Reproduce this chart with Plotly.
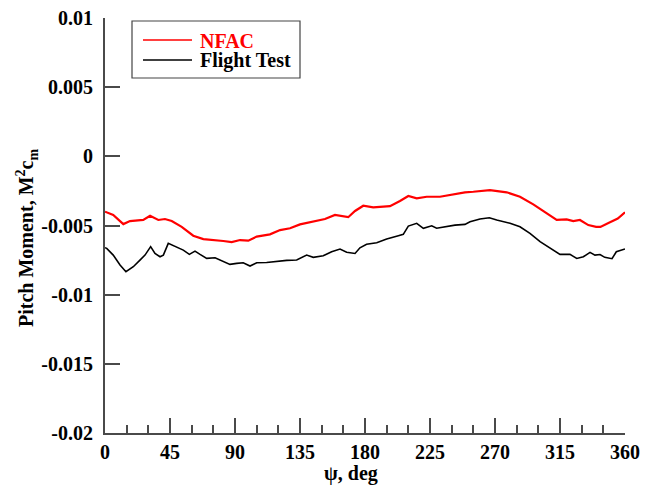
import plotly.graph_objects as go

# ---- data ----
nfac_psi = [0, 1.2, 5.7, 12.7, 17.3, 26.5, 31.2, 36.9, 41.5, 46.2, 53.1, 61.1, 68.1, 81.9, 87.7,
            93.5, 99.2, 105, 114.2, 121.2, 128.1, 135, 146.6, 152.3, 159.2, 166.2, 168.4, 173.1,
            178.8, 185.7, 197.3, 204.2, 210, 215.8, 222.7, 231.9, 241.1, 249.2, 255, 266.5,
            278.1, 287.3, 296.5, 305.8, 312.7, 319.6, 324.2, 328.8, 334.6, 340, 343, 349.6, 355, 360]
nfac_cm = [-0.0040, -0.00405, -0.00424, -0.0049, -0.00468, -0.0046, -0.0043, -0.0046, -0.00453,
           -0.00468, -0.0051, -0.00574, -0.00598, -0.00612, -0.0062, -0.00605, -0.0061, -0.0058,
           -0.00564, -0.00533, -0.0052, -0.00492, -0.00468, -0.00453, -0.00424, -0.00436, -0.0044,
           -0.00395, -0.00357, -0.00369, -0.0036, -0.00323, -0.00287, -0.00304, -0.00292, -0.00292,
           -0.00275, -0.0026, -0.00256, -0.00244, -0.0026, -0.00292, -0.00347, -0.00412, -0.0046,
           -0.00456, -0.00468, -0.0046, -0.00497, -0.0051, -0.0051, -0.00477, -0.0045, -0.00405]

flight_psi = [0, 1.2, 5.7, 10.4, 14.5, 19.6, 24.2, 27.7, 31.6, 34.6, 38.1, 40.4, 43.8, 48.5, 54.2,
              58.4, 62.3, 65.8, 70.4, 76.2, 79.6, 83.1, 86.5, 91.2, 95.7, 100.4, 105, 111.9,
              118.9, 125.8, 132.7, 139.6, 144.2, 151.1, 156.9, 162.7, 167.3, 173.1, 176.5, 181.1,
              188.1, 195, 203.1, 206.5, 210, 215.8, 220.4, 226.2, 229.6, 236.5, 242.3, 249.2,
              252.7, 259.6, 266.1, 271.2, 280.4, 287.3, 294.2, 301.2, 308.1, 315, 321.9, 326.6,
              331.2, 335.8, 339.2, 342.7, 346, 351, 354, 357, 360]
flight_cm = [-0.0066, -0.00665, -0.00714, -0.00786, -0.00834, -0.00798, -0.0075, -0.00714, -0.00653,
             -0.00702, -0.00726, -0.00714, -0.00629, -0.00653, -0.00678, -0.00709, -0.00685,
             -0.00709, -0.00738, -0.00733, -0.0075, -0.00762, -0.00781, -0.00774, -0.00769,
             -0.00793, -0.00769, -0.00767, -0.00757, -0.00752, -0.0075, -0.00714, -0.0073,
             -0.00719, -0.0069, -0.0067, -0.00694, -0.00702, -0.00661, -0.00636, -0.00625,
             -0.00598, -0.00574, -0.00564, -0.00504, -0.00484, -0.0052, -0.00502, -0.0052,
             -0.00509, -0.00497, -0.00492, -0.00473, -0.00453, -0.00444, -0.0046, -0.00484,
             -0.00509, -0.00557, -0.00617, -0.00665, -0.00709, -0.00709, -0.00738, -0.00726,
             -0.00694, -0.00714, -0.0071, -0.0073, -0.0074, -0.0069, -0.0068, -0.0067]

x_tickvals = [0, 45, 90, 135, 180, 225, 270, 315, 360]
x_ticktext = ["0", "45", "90", "135", "180", "225", "270", "315", "360"]
y_tickvals = [0.01, 0.005, 0, -0.005, -0.01, -0.015, -0.02]
y_ticktext = ["0.01", "0.005", "0", "-0.005", "-0.01", "-0.015", "-0.02"]

series_names = ["NFAC", "Flight Test"]
series_colors = ["#ff0000", "#000000"]

FONT = "Liberation Serif"

fig = go.Figure()
fig.add_trace(go.Scatter(x=nfac_psi, y=nfac_cm, mode="lines", name=series_names[0],
                         line=dict(color=series_colors[0], width=2.2), showlegend=False))
fig.add_trace(go.Scatter(x=flight_psi, y=flight_cm, mode="lines", name=series_names[1],
                         line=dict(color=series_colors[1], width=1.6), showlegend=False))

# page body has an 8px margin, so the figure is drawn 8px in from the window corner
OFF = 8
W, H = 655 - OFF, 490 - OFF
L, R, T, B = 105 - OFF, 30, 18 - OFF, 57
pw, ph = W - L - R, H - T - B


def px(x):  # screen pixel -> paper x
    return (x - OFF - L) / pw


def py(y):  # screen pixel -> paper y
    return (H - B - (y - OFF)) / ph


axis_col = "#4a4a4a"
fig.update_layout(
    width=W, height=H,
    margin=dict(l=L, r=R, t=T, b=B, autoexpand=False),
    paper_bgcolor="white", plot_bgcolor="white",
    font=dict(family=FONT, size=20, color="black"),
    xaxis=dict(range=[0, 360], tickvals=x_tickvals, ticktext=x_ticktext,
               ticks="inside", ticklen=15, tickwidth=1.5, tickcolor=axis_col,
               minor=dict(dtick=15, ticks="inside", ticklen=8, tickwidth=1.5, tickcolor=axis_col, showgrid=False),
               showline=True, linecolor=axis_col, linewidth=2, mirror=False,
               showgrid=False, zeroline=False, ticklabeloverflow="allow", automargin=False,
               tickfont=dict(family=FONT, size=20, color="black", weight="bold")),
    yaxis=dict(range=[-0.02, 0.01], tickvals=y_tickvals, ticktext=y_ticktext,
               ticks="inside", ticklen=15, tickwidth=1.5, tickcolor=axis_col,
               showline=True, linecolor=axis_col, linewidth=2, mirror=False,
               showgrid=False, zeroline=False, ticklabelstandoff=6, ticklabeloverflow="allow",
               automargin=False,
               tickfont=dict(family=FONT, size=20, color="black", weight="bold")),
)

annotations = [
    dict(text="<b>ψ, deg</b>", x=px(351), y=py(473), xref="paper", yref="paper",
         showarrow=False, xanchor="center", yanchor="middle",
         font=dict(family=FONT, size=20, color="black")),
    dict(text="<b>Pitch Moment, M<sup>2</sup>c<sub>m</sub></b>", x=px(27), y=py(238),
         xref="paper", yref="paper", showarrow=False, textangle=-90,
         xanchor="center", yanchor="middle",
         font=dict(family=FONT, size=20, color="black")),
    dict(text="<b>NFAC</b>", x=px(198), y=py(41), xref="paper", yref="paper",
         showarrow=False, xanchor="left", yanchor="middle",
         font=dict(family=FONT, size=20, color=series_colors[0])),
    dict(text="<b>Flight Test</b>", x=px(198), y=py(61), xref="paper", yref="paper",
         showarrow=False, xanchor="left", yanchor="middle",
         font=dict(family=FONT, size=20, color=series_colors[1])),
]
shapes = [
    dict(type="rect", xref="paper", yref="paper", x0=px(132), x1=px(300), y0=py(78), y1=py(21),
         line=dict(color="#444444", width=1.2), fillcolor="white", layer="above"),
    dict(type="line", xref="paper", yref="paper", x0=px(143), x1=px(192), y0=py(40), y1=py(40),
         line=dict(color=series_colors[0], width=1.5)),
    dict(type="line", xref="paper", yref="paper", x0=px(143), x1=px(192), y0=py(60), y1=py(60),
         line=dict(color=series_colors[1], width=1.5)),
]
fig.update_layout(annotations=annotations, shapes=shapes)

fig.write_html("out.html")
